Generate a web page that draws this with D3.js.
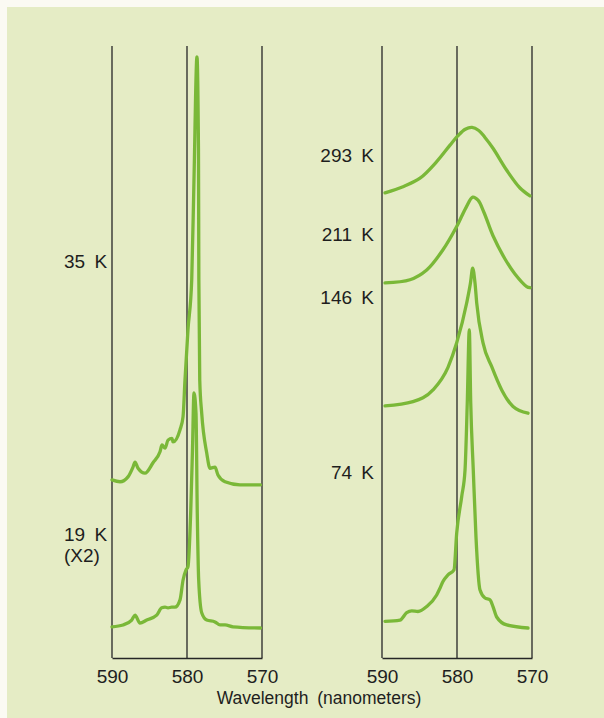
<!DOCTYPE html>
<html>
<head>
<meta charset="utf-8">
<script src="https://cdn.jsdelivr.net/npm/d3@7"></script>
<style>
  body { margin: 0; background: #fbfaf3; }
  svg { display: block; }
  text { font-family: "Liberation Sans", Arial, sans-serif; fill: #1e1e1e; }
</style>
</head>
<body>
<div id="chart"></div>
<script>
// tick labels on the wavelength axis (nanometers)
var ticks = [590, 580, 570];

// curve labels (temperatures)
var leftLabels = ["35 K", "19 K"];
var rightLabels = ["293 K", "211 K", "146 K", "74 K"];

// spectra: [wavelength nm, relative intensity]
var k35 = [[590, 29.1], [588.93, 28.8], [587.87, 29.6], [587.2, 31.2], [586.93, 32.0], [586.53, 31.0],
    [585.6, 30.2], [584.53, 31.9], [583.6, 33.7], [583.33, 34.8], [582.93, 34.3], [582.53, 35.6],
    [582.0, 35.9], [581.87, 35.3], [580.93, 37.3], [580.53, 39.4], [580.27, 45.4], [579.87, 53.6],
    [579.37, 61.8], [579.07, 78.1], [578.67, 98.2], [578.47, 83.0], [578.42, 61.8], [578.3, 45.4],
    [578.04, 40.0], [577.37, 33.5], [576.93, 31.0], [576.27, 31.2], [575.87, 29.9], [574.93, 28.8],
    [572.93, 28.3], [570.2, 28.3]];
var k19 = [[590, 5.1], [588.53, 5.4], [587.37, 6.2], [586.93, 7.0], [586.27, 5.7], [585.37, 6.2],
    [584.04, 7.0], [583.37, 8.2], [582.93, 8.3], [582.53, 8.2], [582.04, 8.3], [581.6, 8.3],
    [580.93, 9.5], [580.53, 12.7], [580.13, 14.4], [579.87, 14.9], [579.51, 23.7], [579.27, 34.0],
    [579.07, 43.3], [578.8, 40.0], [578.63, 23.7], [578.44, 12.7], [578.04, 7.4], [577.37, 6.2],
    [576.27, 5.9], [575.6, 5.4], [574.93, 5.4], [573.87, 5.1], [570.2, 4.9]];
var k293 = [[589.6, 76.0], [587.2, 77.0], [584.93, 78.4], [582.71, 81.1], [580.93, 83.8], [579.9, 85.3],
    [578.9, 86.4], [578.0, 86.7], [577.1, 86.2], [576.3, 85.1], [575.2, 83.3], [573.37, 79.7],
    [571.6, 76.8], [570.27, 75.5]];
var k211 = [[589.6, 61.3], [586.27, 61.8], [584.04, 63.4], [581.87, 66.7], [580.04, 70.5], [578.8, 73.6],
    [577.9, 75.3], [577.2, 74.8], [576.4, 72.8], [575.2, 69.0], [573.6, 65.2], [572.3, 62.8],
    [570.71, 60.7], [570.27, 60.5]];
var k146 = [[589.6, 41.2], [585.87, 41.9], [583.2, 43.8], [581.2, 47.5], [580.04, 51.5], [578.71, 58.0],
    [578.2, 61.3], [577.91, 63.7], [577.6, 61.3], [577.37, 58.0], [576.53, 51.5], [575.37, 47.6],
    [574.04, 43.8], [572.53, 41.1], [570.53, 40.0]];
var k74 = [[589.6, 6.0], [587.6, 6.2], [586.71, 7.4], [586.04, 7.7], [585.2, 7.6], [584.04, 8.4],
    [582.71, 10.3], [582.27, 11.4], [581.87, 12.5], [581.2, 13.6], [580.4, 14.4], [580.04, 20.4],
    [579.37, 26.4], [578.93, 30.7], [578.63, 41.7], [578.36, 53.6], [578.17, 41.7], [577.83, 30.7],
    [577.47, 19.8], [576.93, 11.1], [576.27, 9.8], [575.6, 9.5], [575.2, 8.4], [574.71, 6.7],
    [573.37, 5.4], [570.53, 4.9]];

var width = 604, height = 718;
var green = "#7ab838";

var svg = d3.select("#chart").append("svg")
    .attr("width", width)
    .attr("height", height);

// tinted paper
svg.append("rect")
   .attr("x", 7).attr("y", 7)
   .attr("width", width - 7).attr("height", height - 7)
   .attr("fill", "#e5ecc5");

// shared vertical scale
var yScale = d3.scaleLinear()
               .domain([0, 100])
               .range([658, 46]);

// one panel with its frame, ticks and curves
function makePanel(x0, x1, curves) {
    var xScale = d3.scaleLinear()
                   .domain([590, 570])
                   .range([x0, x1]);

    var g = svg.append("g");

    // vertical guide lines
    g.selectAll(".guide")
     .data(ticks)
     .enter().append("line")
     .attr("x1", d => xScale(d)).attr("x2", d => xScale(d))
     .attr("y1", yScale(100)).attr("y2", yScale(0))
     .attr("stroke", "#262626")
     .attr("stroke-width", 1.3);

    // bottom axis line with labels
    var axis = d3.axisBottom(xScale)
                 .tickValues(ticks)
                 .tickSize(0)
                 .tickPadding(12);
    var ax = g.append("g")
              .attr("transform", "translate(0," + yScale(0) + ")")
              .call(axis);
    ax.select(".domain").attr("stroke", "#262626").attr("stroke-width", 1.5);
    ax.selectAll("text")
      .attr("font-size", 19)
      .attr("font-family", "Liberation Sans, Arial, sans-serif")
      .attr("fill", "#1e1e1e");

    // sharp spectra keep their cusps, broad ones get smooth
    var sharp = d3.line()
                  .x(d => xScale(d[0]))
                  .y(d => yScale(d[1]))
                  .curve(d3.curveMonotoneX);
    var smooth = d3.line()
                   .x(d => xScale(d[0]))
                   .y(d => yScale(d[1]))
                   .curve(d3.curveCatmullRom.alpha(0.5));

    g.selectAll(".spectrum")
     .data(curves)
     .enter().append("path")
     .attr("class", "spectrum")
     .attr("d", d => (d === k293 || d === k211) ? smooth(d) : sharp(d))
     .attr("fill", "none")
     .attr("stroke", green)
     .attr("stroke-width", 3.3)
     .attr("stroke-linejoin", "round")
     .attr("stroke-linecap", "round");
}

makePanel(112, 262, [k35, k19]);
makePanel(382, 532, [k293, k211, k146, k74]);

// temperature labels
var leftPos = [268, 541];
svg.selectAll(".lLabel")
   .data(leftLabels)
   .enter().append("text")
   .attr("x", 64)
   .attr("y", (d, i) => leftPos[i])
   .attr("font-size", 19)
   .attr("word-spacing", 4)
   .text(d => d);

svg.append("text")
   .attr("x", 64)
   .attr("y", 562)
   .attr("font-size", 19)
   .text("(X2)");

var rightPos = [162, 241, 304, 479];
svg.selectAll(".rLabel")
   .data(rightLabels)
   .enter().append("text")
   .attr("x", 374)
   .attr("y", (d, i) => rightPos[i])
   .attr("text-anchor", "end")
   .attr("font-size", 19)
   .attr("word-spacing", 4)
   .text(d => d);

// axis title
svg.append("text")
   .attr("x", 319)
   .attr("y", 704)
   .attr("text-anchor", "middle")
   .attr("font-size", 17.5)
   .attr("word-spacing", 4)
   .text("Wavelength (nanometers)");
</script>
</body>
</html>
